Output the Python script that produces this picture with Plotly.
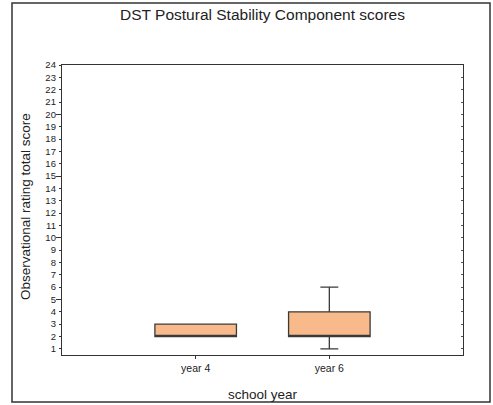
import plotly.graph_objects as go

categories = ["year 4", "year 6"]
positions = [0, 1]
q1 = [2, 2]
median = [2, 2]
q3 = [3, 4]
lower = [2, 1]
upper = [3, 6]
y_ticks = list(range(1, 25))
y_major = [5, 10, 15, 20]

FONT = "Liberation Sans, Arial, sans-serif"

fig = go.Figure()
fig.add_trace(go.Box(
    x=positions, q1=q1, median=median, q3=q3,
    lowerfence=lower, upperfence=upper,
    width=0.61, whiskerwidth=0.22,
    fillcolor="#F8BA8A", line=dict(color="#3a3a3a", width=1.3),
    boxpoints=False, showlegend=False, hoverinfo="skip",
))
fig.add_trace(go.Scatter(x=[None], y=[None], yaxis="y2", showlegend=False))
fig.add_trace(go.Scatter(x=[None], y=[None], yaxis="y3", showlegend=False))

yr = [0.5, 24]
fig.update_layout(
    width=493, height=405,
    margin=dict(l=62, r=30, t=65, b=50),
    paper_bgcolor="white", plot_bgcolor="white",
    font=dict(family=FONT, color="#222"),
    title=dict(text="DST Postural Stability Component scores", x=0.5, xref="paper",
               y=1 - 15 / 405, yanchor="middle", font=dict(size=15.5, color="#222")),
    xaxis=dict(range=[-1, 2], tickvals=positions, ticktext=categories,
               ticks="outside", ticklen=3, tickcolor="#333",
               showline=True, linecolor="#333", linewidth=1.3, mirror=True,
               showgrid=False, zeroline=False, tickfont=dict(size=10.5)),
    yaxis=dict(range=yr, tickvals=y_ticks, ticks="outside", ticklen=2,
               tickcolor="#333", showline=True, linecolor="#333", linewidth=1.3,
               mirror=True, showgrid=False, zeroline=False,
               tickfont=dict(size=9.5), ticklabelstandoff=1),
    yaxis2=dict(range=yr, overlaying="y", tickvals=y_major, ticktext=[""] * 4,
                ticks="outside", ticklen=5, tickcolor="#333", showgrid=False,
                zeroline=False, showline=False),
    yaxis3=dict(range=yr, overlaying="y", side="right", tickvals=y_ticks,
                ticktext=[""] * len(y_ticks), ticks="inside", ticklen=2,
                tickcolor="#555", showgrid=False, zeroline=False, showline=False),
    shapes=[dict(type="rect", xref="paper", yref="paper",
                 x0=(12 - 62) / 401, x1=(490 - 62) / 401,
                 y0=(355 - 402) / 290, y1=(355 - 3) / 290,
                 line=dict(color="#333", width=1.5), layer="below")],
    annotations=[
        dict(text="Observational rating total score", xref="paper", yref="paper",
             x=(25 - 62) / 401, y=(355 - 207) / 290, textangle=-90, showarrow=False,
             xanchor="center", yanchor="middle", font=dict(size=13.5, color="#222")),
        dict(text="school year", xref="paper", yref="paper",
             x=0.5, y=(355 - 394) / 290, showarrow=False,
             xanchor="center", yanchor="middle", font=dict(size=13.5, color="#222")),
    ],
)
fig.write_html("out.html")
